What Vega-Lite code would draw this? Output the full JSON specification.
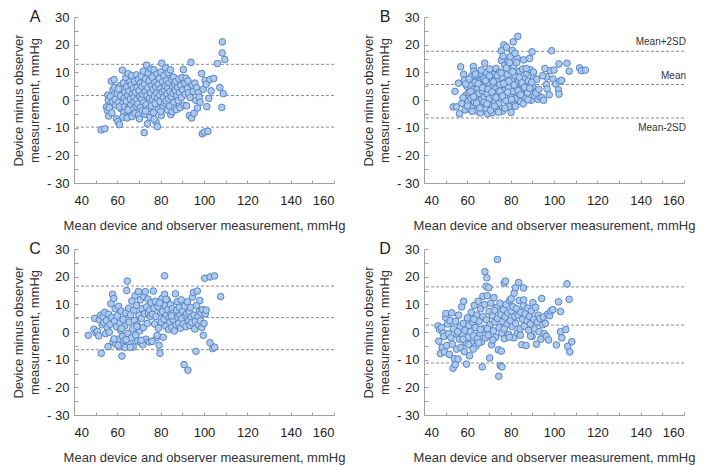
{
"$schema": "https://vega.github.io/schema/vega-lite/v6.json",
"padding": {"left": 12, "top": 9, "right": 5, "bottom": 5},
"background": "white",
"config": {
  "view": {"stroke": null},
  "font": "Liberation Sans",
  "concat": {"spacing": 17},
  "axis": {"grid": false, "domainColor": "#a0a0a0", "tickColor": "#a0a0a0", "labelColor": "#222", "labelFontSize": 13, "labelFont": "Liberation Sans",
    "titleFontSize": 13, "titleFont": "Liberation Sans", "titleFontWeight": "normal", "titleColor": "#333", "labelOverlap": false, "labelBound": false, "tickCount": 30},
  "axisX": {"tickSize": -3, "labelPadding": 14, "titlePadding": 12},
  "axisY": {"tickSize": -4, "labelPadding": 9, "titlePadding": 5, "titleLineHeight": 16}
},
"datasets": {"pts": [
{"p":"A","ref":12.9},{"p":"A","ref":1.6},{"p":"A","ref":-9.8},
{"p":"B","ref":17.6},{"p":"B","ref":5.6},{"p":"B","ref":-6.5},
{"p":"C","ref":16.6},{"p":"C","ref":5.2},{"p":"C","ref":-6.4},
{"p":"D","ref":16.3},{"p":"D","ref":2.5},{"p":"D","ref":-11.2},
{"p":"B","lab":"Mean+2SD","ly":17.6},{"p":"B","lab":"Mean","ly":5.6},{"p":"B","lab":"Mean-2SD","ly":-6.5},
{"p":"A","letter":"A"},{"p":"B","letter":"B"},{"p":"C","letter":"C"},{"p":"D","letter":"D"},
{"p":"A","x":52.5,"y":-10.8},{"p":"A","x":54.2,"y":-10.4},{"p":"A","x":55,"y":-2.5},{"p":"A","x":55.4,"y":-3.8},{"p":"A","x":55.6,"y":1.8},{"p":"A","x":55.8,"y":0},{"p":"A","x":56,"y":-5.8},{"p":"A","x":56.3,"y":-2.8},{"p":"A","x":56.8,"y":1.2},{"p":"A","x":57.2,"y":6.8},{"p":"A","x":57.5,"y":-4.6},{"p":"A","x":57.8,"y":-0.5},{"p":"A","x":58,"y":3.8},
{"p":"A","x":58.5,"y":7.4},{"p":"A","x":58.8,"y":4.5},{"p":"A","x":59,"y":0.2},{"p":"A","x":59.3,"y":-1.8},{"p":"A","x":59.6,"y":-6.8},{"p":"A","x":60,"y":2.5},{"p":"A","x":60.3,"y":-7.8},{"p":"A","x":60.6,"y":-0.8},{"p":"A","x":61,"y":-8.9},{"p":"A","x":61.2,"y":5.2},{"p":"A","x":61.5,"y":1.5},{"p":"A","x":61.8,"y":-3.2},{"p":"A","x":62,"y":3.8},{"p":"A","x":62.3,"y":10.8},{"p":"A","x":62.5,"y":-1.2},{"p":"A","x":62.8,"y":6.2},{"p":"A","x":63,"y":-4.5},{"p":"A","x":63.2,"y":0.6},{"p":"A","x":63.5,"y":2.8},{"p":"A","x":63.7,"y":-5.8},{"p":"A","x":63.9,"y":8.1},{"p":"A","x":61,"y":-2.5},{"p":"A","x":60.5,"y":4},{"p":"A","x":62.6,"y":-6.2},{"p":"A","x":63.4,"y":-2.4},
{"p":"A","x":64.1,"y":-0.4},{"p":"A","x":64.3,"y":4.8},{"p":"A","x":64.5,"y":-6.5},{"p":"A","x":64.8,"y":1.8},{"p":"A","x":65,"y":9.5},{"p":"A","x":65.2,"y":-2.8},{"p":"A","x":65.4,"y":3.2},{"p":"A","x":65.6,"y":-4.2},{"p":"A","x":65.8,"y":6.5},{"p":"A","x":66,"y":0.4},{"p":"A","x":66.2,"y":-1.8},{"p":"A","x":66.4,"y":5.4},{"p":"A","x":66.6,"y":8.8},{"p":"A","x":66.8,"y":-6},{"p":"A","x":67,"y":2.2},{"p":"A","x":67.2,"y":-3.4},{"p":"A","x":67.4,"y":4.2},{"p":"A","x":67.6,"y":0.9},{"p":"A","x":67.8,"y":-0.8},{"p":"A","x":68,"y":6.8},{"p":"A","x":68.2,"y":-4.8},{"p":"A","x":68.4,"y":2.8},{"p":"A","x":68.6,"y":-2.2},{"p":"A","x":68.8,"y":9.1},{"p":"A","x":69,"y":0.2},{"p":"A","x":69.2,"y":4.6},{"p":"A","x":69.4,"y":-1.4},{"p":"A","x":69.6,"y":7.4},{"p":"A","x":69.8,"y":-5.4},{"p":"A","x":64.9,"y":-3.6},
{"p":"A","x":70,"y":3.4},{"p":"A","x":70.2,"y":-6.8},{"p":"A","x":70.4,"y":1.2},{"p":"A","x":70.6,"y":6.1},{"p":"A","x":70.8,"y":-2.6},{"p":"A","x":71,"y":8.6},{"p":"A","x":71.2,"y":0.3},{"p":"A","x":71.4,"y":4.9},{"p":"A","x":71.6,"y":-3.9},{"p":"A","x":71.8,"y":2.1},{"p":"A","x":72,"y":10.4},{"p":"A","x":72.2,"y":-0.9},{"p":"A","x":72.4,"y":-11.8},{"p":"A","x":72.5,"y":5.8},{"p":"A","x":72.7,"y":-5.2},{"p":"A","x":72.9,"y":3.1},{"p":"A","x":73.1,"y":7.6},{"p":"A","x":73.3,"y":-1.7},{"p":"A","x":73.5,"y":12.6},{"p":"A","x":73.7,"y":1.6},{"p":"A","x":73.9,"y":-8.6},{"p":"A","x":74.1,"y":4.4},{"p":"A","x":74.3,"y":9.8},{"p":"A","x":74.5,"y":-3.1},{"p":"A","x":74.7,"y":6.9},{"p":"A","x":74.9,"y":0.7},{"p":"A","x":75.1,"y":-6.2},{"p":"A","x":75.3,"y":2.6},{"p":"A","x":75.5,"y":11.2},{"p":"A","x":75.7,"y":-2.1},{"p":"A","x":75.9,"y":5.2},{"p":"A","x":73,"y":-4},
{"p":"A","x":76.1,"y":8.2},{"p":"A","x":76.3,"y":0.1},{"p":"A","x":76.5,"y":3.9},{"p":"A","x":76.7,"y":-4.6},{"p":"A","x":76.9,"y":10.9},{"p":"A","x":77.1,"y":1.4},{"p":"A","x":77.3,"y":6.3},{"p":"A","x":77.5,"y":-1.3},{"p":"A","x":77.7,"y":4.8},{"p":"A","x":77.9,"y":-8},{"p":"A","x":78.1,"y":2.5},{"p":"A","x":78.3,"y":9.4},{"p":"A","x":78.5,"y":-9.6},{"p":"A","x":78.7,"y":0.6},{"p":"A","x":78.9,"y":5.6},{"p":"A","x":79.1,"y":-3.3},{"p":"A","x":79.3,"y":7.8},{"p":"A","x":79.5,"y":1.9},{"p":"A","x":79.7,"y":-0.6},{"p":"A","x":79.9,"y":4.1},{"p":"A","x":80.1,"y":10.1},{"p":"A","x":80.3,"y":-5.6},{"p":"A","x":80.5,"y":13.3},{"p":"A","x":80.7,"y":2.9},{"p":"A","x":80.9,"y":6.6},{"p":"A","x":81.1,"y":-2.4},{"p":"A","x":81.3,"y":0.9},{"p":"A","x":81.5,"y":8.9},{"p":"A","x":81.7,"y":3.6},{"p":"A","x":81.9,"y":-1.1},{"p":"A","x":77,"y":-6.9},{"p":"A","x":80,"y":-4.1},
{"p":"A","x":82.1,"y":5.1},{"p":"A","x":82.3,"y":11.6},{"p":"A","x":82.5,"y":-0.3},{"p":"A","x":82.7,"y":7.1},{"p":"A","x":82.9,"y":2.2},{"p":"A","x":83.1,"y":-3.6},{"p":"A","x":83.3,"y":4.4},{"p":"A","x":83.5,"y":9.9},{"p":"A","x":83.7,"y":0.4},{"p":"A","x":83.9,"y":6.2},{"p":"A","x":84.1,"y":-2.2},{"p":"A","x":84.3,"y":3.1},{"p":"A","x":84.5,"y":10.9},{"p":"A","x":84.7,"y":-5.3},{"p":"A","x":84.9,"y":1.2},{"p":"A","x":85.1,"y":7.4},{"p":"A","x":85.3,"y":-4.2},{"p":"A","x":85.5,"y":4.9},{"p":"A","x":85.7,"y":2.4},{"p":"A","x":85.9,"y":8.3},{"p":"A","x":86.1,"y":-0.9},{"p":"A","x":86.3,"y":5.7},{"p":"A","x":86.5,"y":-2.9},{"p":"A","x":86.7,"y":3.4},{"p":"A","x":86.9,"y":6.7},{"p":"A","x":87.2,"y":-3.5},{"p":"A","x":87.5,"y":1.6},{"p":"A","x":87.8,"y":4.6},
{"p":"A","x":88.1,"y":-0.2},{"p":"A","x":88.4,"y":7.6},{"p":"A","x":88.7,"y":2.7},{"p":"A","x":89,"y":-2.8},{"p":"A","x":89.3,"y":5.3},{"p":"A","x":89.6,"y":0.9},{"p":"A","x":89.9,"y":8.1},{"p":"A","x":90.2,"y":3.6},{"p":"A","x":90.5,"y":11},{"p":"A","x":90.8,"y":-1.9},{"p":"A","x":91.1,"y":6.1},{"p":"A","x":91.4,"y":2.1},{"p":"A","x":91.7,"y":7.9},{"p":"A","x":92,"y":-2.1},{"p":"A","x":92.3,"y":4.2},{"p":"A","x":92.6,"y":6.9},{"p":"A","x":92.9,"y":2.6},{"p":"A","x":93.3,"y":-5.6},{"p":"A","x":93.6,"y":0.9},{"p":"A","x":94,"y":13.6},
{"p":"A","x":94.3,"y":-6.5},{"p":"A","x":94.6,"y":5.4},{"p":"A","x":95,"y":3.1},{"p":"A","x":95.4,"y":-4.8},{"p":"A","x":95.8,"y":6.1},{"p":"A","x":96.2,"y":-0.1},{"p":"A","x":96.6,"y":4.4},{"p":"A","x":97,"y":-2.9},{"p":"A","x":97.4,"y":2.6},{"p":"A","x":97.8,"y":1},{"p":"A","x":98.2,"y":-0.8},{"p":"A","x":98.9,"y":9.6},{"p":"A","x":99.2,"y":-12.2},{"p":"A","x":99.6,"y":3.9},
{"p":"A","x":100.2,"y":-11.6},{"p":"A","x":100.5,"y":7.1},{"p":"A","x":101,"y":5.7},{"p":"A","x":101.3,"y":-2.4},{"p":"A","x":101.8,"y":-11.3},{"p":"A","x":102.2,"y":0.6},{"p":"A","x":102.8,"y":7.4},{"p":"A","x":103.3,"y":3.3},{"p":"A","x":104.5,"y":7.8},{"p":"A","x":106.2,"y":13.2},{"p":"A","x":107.3,"y":4.5},{"p":"A","x":108.2,"y":-2.7},{"p":"A","x":108.4,"y":17},{"p":"A","x":108.5,"y":21},{"p":"A","x":108.9,"y":2.3},{"p":"A","x":109.6,"y":14.6},
{"p":"B","x":53.5,"y":-2.5},{"p":"B","x":54.3,"y":3.1},{"p":"B","x":55,"y":-2.5},{"p":"B","x":55.9,"y":6.1},{"p":"B","x":56.4,"y":-5},{"p":"B","x":56.9,"y":12},{"p":"B","x":57.5,"y":-1.2},{"p":"B","x":58.3,"y":9.3},{"p":"B","x":58.6,"y":7.2},{"p":"B","x":59,"y":-3.6},{"p":"B","x":59.4,"y":1.8},{"p":"B","x":59.8,"y":4.9},{"p":"B","x":60.2,"y":-0.4},{"p":"B","x":60.6,"y":2.6},{"p":"B","x":61,"y":-3.2},{"p":"B","x":61.3,"y":5.3},{"p":"B","x":61.7,"y":0.6},{"p":"B","x":62,"y":8.6},{"p":"B","x":62.3,"y":-2.2},{"p":"B","x":62.8,"y":12.1},{"p":"B","x":62.6,"y":3.8},{"p":"B","x":63,"y":10.4},{"p":"B","x":63.3,"y":-0.9},{"p":"B","x":63.6,"y":6.4},{"p":"B","x":63.9,"y":1.4},{"p":"B","x":64.2,"y":-3.9},{"p":"B","x":64.5,"y":8.9},{"p":"B","x":64.8,"y":4.3},{"p":"B","x":65.1,"y":-1.6},{"p":"B","x":65.4,"y":2.4},{"p":"B","x":65.7,"y":9.6},{"p":"B","x":66,"y":-4.7},{"p":"B","x":66.3,"y":6.8},{"p":"B","x":66.6,"y":0.2},{"p":"B","x":66.9,"y":3.3},{"p":"B","x":67.2,"y":-2.6},{"p":"B","x":67.5,"y":7.7},{"p":"B","x":67.8,"y":1.1},{"p":"B","x":68,"y":13.3},{"p":"B","x":68.2,"y":4.9},{"p":"B","x":68.5,"y":-3.1},{"p":"B","x":68.8,"y":9.9},{"p":"B","x":69.1,"y":2.3},{"p":"B","x":69.4,"y":-5},{"p":"B","x":69.7,"y":6.1},{"p":"B","x":70,"y":0.4},{"p":"B","x":70.3,"y":11.2},{"p":"B","x":70.6,"y":3.6},{"p":"B","x":70.9,"y":-1.9},{"p":"B","x":71.2,"y":8.4},{"p":"B","x":71.5,"y":-4.6},{"p":"B","x":71.8,"y":5.2},{"p":"B","x":72.1,"y":1.7},{"p":"B","x":72.4,"y":9.2},{"p":"B","x":72.7,"y":-0.7},{"p":"B","x":73,"y":4},{"p":"B","x":73.3,"y":11.4},{"p":"B","x":73.6,"y":-3.4},{"p":"B","x":73.9,"y":6.9},{"p":"B","x":74.2,"y":2.9},{"p":"B","x":74.5,"y":-1.3},{"p":"B","x":74.8,"y":10.1},{"p":"B","x":75.1,"y":5.6},{"p":"B","x":75.4,"y":0.8},{"p":"B","x":75.7,"y":14.3},{"p":"B","x":75.7,"y":17.8},{"p":"B","x":76,"y":8.1},{"p":"B","x":76.3,"y":-4},{"p":"B","x":76.6,"y":3.4},{"p":"B","x":76.9,"y":19.9},{"p":"B","x":77.2,"y":12.6},{"p":"B","x":77.5,"y":6.3},{"p":"B","x":77.8,"y":-0.2},{"p":"B","x":78.1,"y":19.1},{"p":"B","x":78.4,"y":9.3},{"p":"B","x":78.7,"y":14.1},{"p":"B","x":79,"y":4.4},{"p":"B","x":79.3,"y":-2.4},{"p":"B","x":79.6,"y":10.9},{"p":"B","x":79.9,"y":1.9},{"p":"B","x":80.2,"y":-4.5},{"p":"B","x":80.5,"y":7.2},{"p":"B","x":80.8,"y":17.9},{"p":"B","x":81.1,"y":3.1},{"p":"B","x":81.2,"y":21},{"p":"B","x":81.4,"y":12.2},{"p":"B","x":81.7,"y":-1.6},{"p":"B","x":82,"y":8.8},{"p":"B","x":82.3,"y":4.9},{"p":"B","x":82.6,"y":0.6},{"p":"B","x":83,"y":15.2},{"p":"B","x":83.3,"y":23},{"p":"B","x":83.6,"y":6.4},{"p":"B","x":83.9,"y":2.1},{"p":"B","x":84.2,"y":10.4},{"p":"B","x":84.5,"y":-0.6},{"p":"B","x":84.8,"y":5.7},{"p":"B","x":85.1,"y":3.6},{"p":"B","x":85.5,"y":11.2},{"p":"B","x":86,"y":14.5},{"p":"B","x":86.3,"y":7.6},{"p":"B","x":86.7,"y":0.9},{"p":"B","x":87,"y":3.9},{"p":"B","x":87.4,"y":9.7},{"p":"B","x":87.8,"y":2.6},{"p":"B","x":88.2,"y":6.9},{"p":"B","x":88.7,"y":15},{"p":"B","x":89.1,"y":10.9},{"p":"B","x":89.5,"y":-0.1},{"p":"B","x":89.9,"y":17.4},{"p":"B","x":90.2,"y":4.8},{"p":"B","x":90.6,"y":8.2},{"p":"B","x":91,"y":1.6},{"p":"B","x":91.4,"y":3},{"p":"B","x":92,"y":7.5},{"p":"B","x":92.6,"y":0.3},{"p":"B","x":93.4,"y":1.2},{"p":"B","x":94.4,"y":0.8},{"p":"B","x":95.2,"y":-0.1},{"p":"B","x":96.5,"y":8.3},{"p":"B","x":96.5,"y":5.6},{"p":"B","x":96.8,"y":4},{"p":"B","x":97.8,"y":1.9},{"p":"B","x":98.3,"y":10.6},{"p":"B","x":98.9,"y":17.8},{"p":"B","x":99.5,"y":7.6},{"p":"B","x":100.8,"y":5.8},{"p":"B","x":102,"y":3.7},{"p":"B","x":102.3,"y":2.1},{"p":"B","x":102.3,"y":13},{"p":"B","x":102.6,"y":6.8},{"p":"B","x":103.5,"y":7.1},{"p":"B","x":106,"y":13.3},{"p":"B","x":107,"y":10.4},{"p":"B","x":111.8,"y":11.6},{"p":"B","x":112.7,"y":10.6},{"p":"B","x":114.5,"y":10.8},
{"p":"B","x":58,"y":0.8},{"p":"B","x":59.2,"y":5.8},{"p":"B","x":60,"y":-2.1},{"p":"B","x":60.8,"y":7.6},{"p":"B","x":61.5,"y":3.1},{"p":"B","x":62.2,"y":-4.1},{"p":"B","x":62.9,"y":1.2},{"p":"B","x":63.7,"y":9.4},{"p":"B","x":64.3,"y":-1.1},{"p":"B","x":65,"y":5.9},{"p":"B","x":65.8,"y":-2.9},{"p":"B","x":66.4,"y":10.8},{"p":"B","x":67,"y":4.4},{"p":"B","x":67.7,"y":-0.8},{"p":"B","x":68.4,"y":7},{"p":"B","x":69,"y":-1.4},{"p":"B","x":69.6,"y":3.9},{"p":"B","x":70.2,"y":8.7},{"p":"B","x":70.8,"y":-3.7},{"p":"B","x":71.4,"y":2.9},{"p":"B","x":72,"y":6.6},{"p":"B","x":72.6,"y":-2.2},{"p":"B","x":73.2,"y":0.9},{"p":"B","x":73.8,"y":8.9},{"p":"B","x":74.4,"y":-4.4},{"p":"B","x":75,"y":3.2},{"p":"B","x":75.6,"y":9.8},{"p":"B","x":76.2,"y":1.4},{"p":"B","x":76.8,"y":5.9},{"p":"B","x":77.4,"y":-2.9},{"p":"B","x":78,"y":11.6},{"p":"B","x":78.6,"y":2.8},{"p":"B","x":79.2,"y":6.8},{"p":"B","x":79.8,"y":15.6},{"p":"B","x":80.4,"y":0.2},{"p":"B","x":81,"y":10.2},{"p":"B","x":81.6,"y":5.4},{"p":"B","x":82.2,"y":-2.3},{"p":"B","x":82.8,"y":13.6},{"p":"B","x":83.4,"y":3.4},{"p":"B","x":84,"y":8.2},{"p":"B","x":84.6,"y":1.9},{"p":"B","x":85.2,"y":6.2},{"p":"B","x":85.8,"y":-1.4},{"p":"B","x":86.5,"y":4.6},{"p":"B","x":87.2,"y":11.4},{"p":"B","x":88,"y":0.1},{"p":"B","x":88.8,"y":4.3},{"p":"B","x":89.7,"y":6.4},{"p":"B","x":90.5,"y":10.1},{"p":"B","x":91.7,"y":2.5},{"p":"B","x":93,"y":3.9},{"p":"B","x":94.8,"y":8.8},{"p":"B","x":95.8,"y":11.4},{"p":"B","x":100,"y":10.8},{"p":"B","x":76.5,"y":15.8},{"p":"B","x":79.5,"y":13.5},{"p":"B","x":82,"y":16.9},
{"p":"C","x":46.6,"y":-1.2},{"p":"C","x":49.2,"y":1},{"p":"C","x":49.5,"y":4.9},{"p":"C","x":50.2,"y":-0.3},{"p":"C","x":50.8,"y":0.2},{"p":"C","x":51.4,"y":-1.4},{"p":"C","x":51.7,"y":4.4},{"p":"C","x":52.3,"y":6.1},{"p":"C","x":52.6,"y":-7.7},{"p":"C","x":53,"y":2.6},{"p":"C","x":53.4,"y":5.6},{"p":"C","x":53.8,"y":3.4},{"p":"C","x":54.2,"y":7.1},{"p":"C","x":54.6,"y":-0.6},{"p":"C","x":55,"y":4.1},{"p":"C","x":55.4,"y":1.6},{"p":"C","x":55.7,"y":-5.3},{"p":"C","x":56,"y":6.4},{"p":"C","x":56.3,"y":-0.1},{"p":"C","x":56.7,"y":2.8},{"p":"C","x":57,"y":10.2},{"p":"C","x":57.4,"y":5.2},{"p":"C","x":57.8,"y":13.6},{"p":"C","x":58,"y":-3.6},{"p":"C","x":58.4,"y":12.1},{"p":"C","x":58.7,"y":3.9},{"p":"C","x":59,"y":8.4},{"p":"C","x":59.3,"y":-4.4},{"p":"C","x":59.6,"y":1.9},{"p":"C","x":60,"y":5.8},{"p":"C","x":60.3,"y":-2.6},{"p":"C","x":60.6,"y":9.3},{"p":"C","x":60.9,"y":-5.4},{"p":"C","x":61.2,"y":3.2},{"p":"C","x":61.5,"y":0.6},{"p":"C","x":61.8,"y":7.6},{"p":"C","x":62.1,"y":-8.7},{"p":"C","x":62.4,"y":-1.6},{"p":"C","x":62.7,"y":4.6},{"p":"C","x":63,"y":-3.1},{"p":"C","x":63.3,"y":2.1},{"p":"C","x":63.6,"y":-5.6},{"p":"C","x":63.9,"y":6.9},{"p":"C","x":64.3,"y":15},{"p":"C","x":64.6,"y":18.4},{"p":"C","x":64.9,"y":-0.6},{"p":"C","x":65.2,"y":8.6},{"p":"C","x":65.5,"y":3.6},{"p":"C","x":65.8,"y":-4.1},{"p":"C","x":66.1,"y":6.2},{"p":"C","x":66.4,"y":-2.1},{"p":"C","x":66.7,"y":11.2},{"p":"C","x":67,"y":1.1},{"p":"C","x":67.3,"y":-5.4},{"p":"C","x":67.6,"y":7.9},{"p":"C","x":67.9,"y":4.1},{"p":"C","x":68.2,"y":13.1},{"p":"C","x":68.5,"y":-1.1},{"p":"C","x":68.8,"y":9.6},{"p":"C","x":69.1,"y":2.6},{"p":"C","x":69.4,"y":-3.3},{"p":"C","x":69.7,"y":14.6},{"p":"C","x":70,"y":6.1},{"p":"C","x":70.3,"y":0.4},{"p":"C","x":70.6,"y":11.6},{"p":"C","x":70.8,"y":-3.9},{"p":"C","x":71.1,"y":4.9},{"p":"C","x":71.4,"y":8.4},{"p":"C","x":71.7,"y":-4.6},{"p":"C","x":72,"y":1.6},{"p":"C","x":72.3,"y":12.8},{"p":"C","x":72.6,"y":6.6},{"p":"C","x":72.9,"y":14.6},{"p":"C","x":73.2,"y":-2.6},{"p":"C","x":73.5,"y":9.1},{"p":"C","x":73.8,"y":3.1},{"p":"C","x":74.1,"y":11.9},{"p":"C","x":74.4,"y":6.8},{"p":"C","x":74.7,"y":-3.6},{"p":"C","x":75,"y":7.9},{"p":"C","x":75.3,"y":5.6},{"p":"C","x":75.6,"y":10.6},{"p":"C","x":75.9,"y":-3.4},{"p":"C","x":76.2,"y":6.4},{"p":"C","x":76.6,"y":14.8},{"p":"C","x":76.9,"y":8.6},{"p":"C","x":77.2,"y":2.9},{"p":"C","x":77.5,"y":11.1},{"p":"C","x":77.8,"y":5.6},{"p":"C","x":78.1,"y":-2.1},{"p":"C","x":78.4,"y":-1.2},{"p":"C","x":78.7,"y":9.2},{"p":"C","x":79,"y":1.4},{"p":"C","x":79.3,"y":-4.8},{"p":"C","x":79.7,"y":-7.7},{"p":"C","x":80,"y":6.9},{"p":"C","x":80.3,"y":3.6},{"p":"C","x":80.6,"y":12.1},{"p":"C","x":80.9,"y":7.4},{"p":"C","x":81.2,"y":-1.9},{"p":"C","x":81.5,"y":4.6},{"p":"C","x":81.8,"y":20.3},{"p":"C","x":81.8,"y":13.6},{"p":"C","x":82.1,"y":9.6},{"p":"C","x":82.4,"y":2.1},{"p":"C","x":82.7,"y":6.1},{"p":"C","x":83,"y":11.6},{"p":"C","x":83.3,"y":8.1},{"p":"C","x":83.6,"y":0.9},{"p":"C","x":83.9,"y":5.1},{"p":"C","x":84.2,"y":3.6},{"p":"C","x":84.5,"y":9.9},{"p":"C","x":84.8,"y":6.6},{"p":"C","x":85.1,"y":1.6},{"p":"C","x":85.4,"y":8.4},{"p":"C","x":85.7,"y":4.4},{"p":"C","x":86,"y":6.9},{"p":"C","x":86.3,"y":0.4},{"p":"C","x":86.8,"y":13.8},{"p":"C","x":87.1,"y":2.6},{"p":"C","x":87.4,"y":7.9},{"p":"C","x":87.7,"y":10.9},{"p":"C","x":88,"y":5.4},{"p":"C","x":88.3,"y":3.1},{"p":"C","x":88.6,"y":8.9},{"p":"C","x":88.9,"y":6.1},{"p":"C","x":89.2,"y":1.4},{"p":"C","x":89.5,"y":11.6},{"p":"C","x":89.8,"y":4.9},{"p":"C","x":90.1,"y":7.6},{"p":"C","x":90.4,"y":2.9},{"p":"C","x":90.8,"y":-11.8},{"p":"C","x":91.1,"y":9.4},{"p":"C","x":91.4,"y":5.9},{"p":"C","x":91.7,"y":1.9},{"p":"C","x":92,"y":6.6},{"p":"C","x":92.3,"y":10.9},{"p":"C","x":92.6,"y":-13.8},{"p":"C","x":92.9,"y":4.1},{"p":"C","x":93.2,"y":7.1},{"p":"C","x":93.5,"y":2.4},{"p":"C","x":93.8,"y":8.9},{"p":"C","x":94.1,"y":5.4},{"p":"C","x":94.4,"y":3.4},{"p":"C","x":94.7,"y":12.6},{"p":"C","x":95.1,"y":14.3},{"p":"C","x":95.4,"y":6.1},{"p":"C","x":95.7,"y":1.1},{"p":"C","x":96,"y":3.9},{"p":"C","x":96.3,"y":-7},{"p":"C","x":96.6,"y":9.6},{"p":"C","x":96.9,"y":14.8},{"p":"C","x":97.2,"y":5.6},{"p":"C","x":97.5,"y":2.6},{"p":"C","x":97.8,"y":7.4},{"p":"C","x":98.1,"y":11.4},{"p":"C","x":98.4,"y":4.1},{"p":"C","x":98.7,"y":6.9},{"p":"C","x":99,"y":1.6},{"p":"C","x":99.4,"y":8.1},{"p":"C","x":99.7,"y":-1.2},{"p":"C","x":100,"y":3.1},{"p":"C","x":100.3,"y":19.4},{"p":"C","x":100.6,"y":6.6},{"p":"C","x":101,"y":7.9},{"p":"C","x":102.8,"y":19.9},{"p":"C","x":102.8,"y":-3.9},{"p":"C","x":104,"y":-6},{"p":"C","x":104.9,"y":-5.5},{"p":"C","x":104.9,"y":20.3},{"p":"C","x":107.7,"y":12.8},{"p":"C","x":64,"y":-2.8},{"p":"C","x":66,"y":-5.5},{"p":"C","x":69,"y":2},{"p":"C","x":58.5,"y":-2.5},{"p":"C","x":60.4,"y":-4.8},{"p":"C","x":62,"y":1.3},{"p":"C","x":76,"y":-3.4},{"p":"C","x":71,"y":-3},{"p":"C","x":85,"y":5.8},{"p":"C","x":79.5,"y":10.5},{"p":"C","x":82.5,"y":11.8},
{"p":"D","x":46.5,"y":2.2},{"p":"D","x":46.8,"y":-3.3},{"p":"D","x":47.2,"y":0.9},{"p":"D","x":47.6,"y":-7.8},{"p":"D","x":48,"y":1.6},{"p":"D","x":48.4,"y":-5.6},{"p":"D","x":48.8,"y":-0.4},{"p":"D","x":49.2,"y":-1.6},{"p":"D","x":49.5,"y":-7.2},{"p":"D","x":50,"y":5.2},{"p":"D","x":50.1,"y":6.7},{"p":"D","x":50.5,"y":-4.9},{"p":"D","x":50.9,"y":2.9},{"p":"D","x":51.3,"y":-0.6},{"p":"D","x":51.7,"y":-8.1},{"p":"D","x":52,"y":4.1},{"p":"D","x":52.4,"y":-2.1},{"p":"D","x":52.8,"y":6.9},{"p":"D","x":53.1,"y":-4.4},{"p":"D","x":53.4,"y":-13.1},{"p":"D","x":53.6,"y":1.1},{"p":"D","x":54,"y":-9.6},{"p":"D","x":54.4,"y":-11.8},{"p":"D","x":54.6,"y":3.9},{"p":"D","x":55,"y":-6.2},{"p":"D","x":55.3,"y":-0.9},{"p":"D","x":55.7,"y":-9.8},{"p":"D","x":56,"y":6.1},{"p":"D","x":56.3,"y":-2.6},{"p":"D","x":56.7,"y":1.9},{"p":"D","x":57,"y":-5.6},{"p":"D","x":57.4,"y":9.1},{"p":"D","x":57.8,"y":-1.1},{"p":"D","x":58.2,"y":3.1},{"p":"D","x":58.3,"y":11.1},{"p":"D","x":58.6,"y":-7.1},{"p":"D","x":59,"y":0.6},{"p":"D","x":59.3,"y":-3.9},{"p":"D","x":59.6,"y":-11.6},{"p":"D","x":60,"y":5.1},{"p":"D","x":60.3,"y":-1.9},{"p":"D","x":60.7,"y":2.4},{"p":"D","x":61,"y":-8.6},{"p":"D","x":61.4,"y":0.1},{"p":"D","x":61.8,"y":7.1},{"p":"D","x":62.1,"y":-4.1},{"p":"D","x":62.5,"y":3.6},{"p":"D","x":62.9,"y":-1.4},{"p":"D","x":63.2,"y":9.6},{"p":"D","x":63.6,"y":1.6},{"p":"D","x":64,"y":-5.1},{"p":"D","x":64.3,"y":6.1},{"p":"D","x":64.7,"y":-2.4},{"p":"D","x":65,"y":11.1},{"p":"D","x":65.4,"y":3.9},{"p":"D","x":65.8,"y":-0.4},{"p":"D","x":66.1,"y":8.4},{"p":"D","x":66.5,"y":-3.6},{"p":"D","x":66.9,"y":-12.6},{"p":"D","x":67.2,"y":12.9},{"p":"D","x":67.2,"y":5.6},{"p":"D","x":67.6,"y":1.1},{"p":"D","x":68,"y":9.9},{"p":"D","x":68.1,"y":21.8},{"p":"D","x":68.4,"y":-2.1},{"p":"D","x":68.7,"y":16.5},{"p":"D","x":68.8,"y":4.4},{"p":"D","x":69,"y":19.6},{"p":"D","x":69.2,"y":13.1},{"p":"D","x":69.6,"y":-1.1},{"p":"D","x":69.9,"y":16},{"p":"D","x":70,"y":7.4},{"p":"D","x":70.3,"y":-9.4},{"p":"D","x":70.4,"y":2.6},{"p":"D","x":70.8,"y":10.4},{"p":"D","x":71.2,"y":-4.6},{"p":"D","x":71.6,"y":5.9},{"p":"D","x":72,"y":0.4},{"p":"D","x":72.3,"y":12.4},{"p":"D","x":72.7,"y":3.6},{"p":"D","x":73.1,"y":-1.9},{"p":"D","x":73.5,"y":8.9},{"p":"D","x":73.9,"y":26.2},{"p":"D","x":73.9,"y":4.9},{"p":"D","x":74.3,"y":-6.4},{"p":"D","x":74.5,"y":-16},{"p":"D","x":74.7,"y":1.6},{"p":"D","x":75.1,"y":10.4},{"p":"D","x":75.2,"y":-12.1},{"p":"D","x":75.5,"y":6.4},{"p":"D","x":75.9,"y":-0.4},{"p":"D","x":76,"y":-12.6},{"p":"D","x":76.3,"y":3.9},{"p":"D","x":76.7,"y":8.1},{"p":"D","x":77,"y":17.7},{"p":"D","x":77.1,"y":-2.4},{"p":"D","x":77.5,"y":5.4},{"p":"D","x":77.6,"y":18.4},{"p":"D","x":77.9,"y":9.9},{"p":"D","x":78.3,"y":2.6},{"p":"D","x":78.7,"y":6.9},{"p":"D","x":79.1,"y":-0.9},{"p":"D","x":79.5,"y":11.4},{"p":"D","x":79.9,"y":4.1},{"p":"D","x":80.3,"y":7.6},{"p":"D","x":80.7,"y":1.9},{"p":"D","x":81.1,"y":9.1},{"p":"D","x":81.5,"y":-2.1},{"p":"D","x":81.6,"y":14},{"p":"D","x":81.9,"y":5.6},{"p":"D","x":82.2,"y":16},{"p":"D","x":82.3,"y":3.1},{"p":"D","x":82.7,"y":8.4},{"p":"D","x":83.1,"y":-0.4},{"p":"D","x":83.5,"y":6.1},{"p":"D","x":83.7,"y":17.9},{"p":"D","x":83.9,"y":11.4},{"p":"D","x":84.3,"y":1.1},{"p":"D","x":84.7,"y":7.1},{"p":"D","x":85.1,"y":-4.6},{"p":"D","x":85.5,"y":4.6},{"p":"D","x":85.9,"y":15.9},{"p":"D","x":85.9,"y":9.6},{"p":"D","x":86.3,"y":2.1},{"p":"D","x":86.7,"y":6.6},{"p":"D","x":87.1,"y":-4.9},{"p":"D","x":87.5,"y":4.1},{"p":"D","x":87.9,"y":8.6},{"p":"D","x":88.3,"y":0.6},{"p":"D","x":88.7,"y":5.6},{"p":"D","x":89.1,"y":2.9},{"p":"D","x":89.5,"y":7.6},{"p":"D","x":89.9,"y":-1.6},{"p":"D","x":90.3,"y":10.6},{"p":"D","x":90.7,"y":4.6},{"p":"D","x":91.1,"y":1.1},{"p":"D","x":91.5,"y":8.9},{"p":"D","x":91.9,"y":-4.4},{"p":"D","x":92.3,"y":3.6},{"p":"D","x":92.7,"y":6.1},{"p":"D","x":93.1,"y":0.1},{"p":"D","x":93.5,"y":4.9},{"p":"D","x":93.9,"y":-2.6},{"p":"D","x":94.3,"y":12.1},{"p":"D","x":94.7,"y":2.6},{"p":"D","x":95.1,"y":5.4},{"p":"D","x":95.5,"y":-0.6},{"p":"D","x":96,"y":3.1},{"p":"D","x":96.5,"y":-1.6},{"p":"D","x":97,"y":6.4},{"p":"D","x":97.5,"y":-2.9},{"p":"D","x":98,"y":5.9},{"p":"D","x":98.5,"y":7.6},{"p":"D","x":99.5,"y":8.1},{"p":"D","x":101.1,"y":-4.7},{"p":"D","x":102.1,"y":10.9},{"p":"D","x":103,"y":7.4},{"p":"D","x":103,"y":0.1},{"p":"D","x":103.6,"y":-2.1},{"p":"D","x":105.4,"y":0.9},{"p":"D","x":106,"y":17.4},{"p":"D","x":106.3,"y":-5.2},{"p":"D","x":107,"y":11.8},{"p":"D","x":107.3,"y":-7.2},{"p":"D","x":108.2,"y":-3.5},{"p":"D","x":55.5,"y":0.1},{"p":"D","x":58,"y":-2.6},{"p":"D","x":60.6,"y":-4.6},{"p":"D","x":62.7,"y":-6.2},{"p":"D","x":65.2,"y":-3.9},{"p":"D","x":71.8,"y":-2.9},{"p":"D","x":75.7,"y":-6.9},{"p":"D","x":79.4,"y":-1.9},{"p":"D","x":84.5,"y":-1.2},{"p":"D","x":89.2,"y":-1.5},{"p":"D","x":63,"y":4.6},{"p":"D","x":66,"y":0.9},{"p":"D","x":69.3,"y":1.2},{"p":"D","x":72.6,"y":7.8},{"p":"D","x":77,"y":1.1},{"p":"D","x":80.2,"y":12},{"p":"D","x":86,"y":11.6}
]},
"data": {"name": "pts"},
"vconcat": [
 {"hconcat": [
  {"width": 260, "height": 166, "transform": [{"filter": "datum.p == 'A'"}], "layer": [
    {"transform": [{"filter": "isValid(datum.ref)"}], "mark": {"type": "rule", "strokeDash": [3, 2], "color": "#8a8a8a", "strokeWidth": 1},
     "encoding": {"y": {"field": "ref", "type": "quantitative", "scale": {"domain": [-30, 30]}, "axis": {"title": ["Device minus observer", "measurement, mmHg"], "values": [-30,-25,-20,-15,-10,-5,0,5,10,15,20,25,30], "labelExpr": "datum.value % 10 != 0 ? '' : (datum.value < 0 ? '- ' + abs(datum.value) : '' + datum.value)"}}}},
    {"transform": [{"filter": "isValid(datum.x)"}], "mark": {"type": "point", "shape": "circle", "filled": true, "size": 44, "fill": "#aec9ee", "stroke": "#5584c4", "strokeWidth": 1, "opacity": 1},
     "encoding": {"x": {"field": "x", "type": "quantitative", "scale": {"domain": [40, 160]}, "axis": {"title": "Mean device and observer measurement, mmHg", "values": [40,50,60,70,80,90,100,110,120,130,140,150,160], "labelExpr": "datum.value % 20 != 0 ? '' : datum.label"}}, "y": {"field": "y", "type": "quantitative"}}},
    {"transform": [{"filter": "isValid(datum.letter)"}], "mark": {"type": "text", "align": "center", "baseline": "middle", "dx": -39, "fontSize": 16, "font": "Liberation Sans", "color": "#222"},
     "encoding": {"x": {"datum": 40}, "y": {"datum": 30}, "text": {"field": "letter"}}}
  ]},
  {"width": 260, "height": 166, "transform": [{"filter": "datum.p == 'B'"}], "layer": [
    {"transform": [{"filter": "isValid(datum.ref)"}], "mark": {"type": "rule", "strokeDash": [3, 2], "color": "#8a8a8a", "strokeWidth": 1},
     "encoding": {"y": {"field": "ref", "type": "quantitative", "scale": {"domain": [-30, 30]}, "axis": {"title": ["Device minus observer", "measurement, mmHg"], "values": [-30,-25,-20,-15,-10,-5,0,5,10,15,20,25,30], "labelExpr": "datum.value % 10 != 0 ? '' : (datum.value < 0 ? '- ' + abs(datum.value) : '' + datum.value)"}}}},
    {"transform": [{"filter": "isValid(datum.x)"}], "mark": {"type": "point", "shape": "circle", "filled": true, "size": 44, "fill": "#aec9ee", "stroke": "#5584c4", "strokeWidth": 1, "opacity": 1},
     "encoding": {"x": {"field": "x", "type": "quantitative", "scale": {"domain": [40, 160]}, "axis": {"title": "Mean device and observer measurement, mmHg", "values": [40,50,60,70,80,90,100,110,120,130,140,150,160], "labelExpr": "datum.value % 20 != 0 ? '' : datum.label"}}, "y": {"field": "y", "type": "quantitative"}}},
    {"transform": [{"filter": "datum.lab == 'Mean+2SD' || datum.lab == 'Mean'"}], "mark": {"type": "text", "align": "right", "baseline": "middle", "dx": 2, "dy": -9, "fontSize": 10, "font": "Liberation Sans", "color": "#333"},
     "encoding": {"x": {"datum": 160}, "y": {"field": "ly", "type": "quantitative"}, "text": {"field": "lab"}}},
    {"transform": [{"filter": "datum.lab == 'Mean-2SD'"}], "mark": {"type": "text", "align": "right", "baseline": "middle", "dx": 2, "dy": 10, "fontSize": 10, "font": "Liberation Sans", "color": "#333"},
     "encoding": {"x": {"datum": 160}, "y": {"field": "ly", "type": "quantitative"}, "text": {"field": "lab"}}},
    {"transform": [{"filter": "isValid(datum.letter)"}], "mark": {"type": "text", "align": "center", "baseline": "middle", "dx": -39, "fontSize": 16, "font": "Liberation Sans", "color": "#222"},
     "encoding": {"x": {"datum": 40}, "y": {"datum": 30}, "text": {"field": "letter"}}}
  ]}
 ]},
 {"hconcat": [
  {"width": 260, "height": 166, "transform": [{"filter": "datum.p == 'C'"}], "layer": [
    {"transform": [{"filter": "isValid(datum.ref)"}], "mark": {"type": "rule", "strokeDash": [3, 2], "color": "#8a8a8a", "strokeWidth": 1},
     "encoding": {"y": {"field": "ref", "type": "quantitative", "scale": {"domain": [-30, 30]}, "axis": {"title": ["Device minus observer", "measurement, mmHg"], "values": [-30,-25,-20,-15,-10,-5,0,5,10,15,20,25,30], "labelExpr": "datum.value % 10 != 0 ? '' : (datum.value < 0 ? '- ' + abs(datum.value) : '' + datum.value)"}}}},
    {"transform": [{"filter": "isValid(datum.x)"}], "mark": {"type": "point", "shape": "circle", "filled": true, "size": 44, "fill": "#aec9ee", "stroke": "#5584c4", "strokeWidth": 1, "opacity": 1},
     "encoding": {"x": {"field": "x", "type": "quantitative", "scale": {"domain": [40, 160]}, "axis": {"title": "Mean device and observer measurement, mmHg", "values": [40,50,60,70,80,90,100,110,120,130,140,150,160], "labelExpr": "datum.value % 20 != 0 ? '' : datum.label"}}, "y": {"field": "y", "type": "quantitative"}}},
    {"transform": [{"filter": "isValid(datum.letter)"}], "mark": {"type": "text", "align": "center", "baseline": "middle", "dx": -39, "fontSize": 16, "font": "Liberation Sans", "color": "#222"},
     "encoding": {"x": {"datum": 40}, "y": {"datum": 30}, "text": {"field": "letter"}}}
  ]},
  {"width": 260, "height": 166, "transform": [{"filter": "datum.p == 'D'"}], "layer": [
    {"transform": [{"filter": "isValid(datum.ref)"}], "mark": {"type": "rule", "strokeDash": [3, 2], "color": "#8a8a8a", "strokeWidth": 1},
     "encoding": {"y": {"field": "ref", "type": "quantitative", "scale": {"domain": [-30, 30]}, "axis": {"title": ["Device minus observer", "measurement, mmHg"], "values": [-30,-25,-20,-15,-10,-5,0,5,10,15,20,25,30], "labelExpr": "datum.value % 10 != 0 ? '' : (datum.value < 0 ? '- ' + abs(datum.value) : '' + datum.value)"}}}},
    {"transform": [{"filter": "isValid(datum.x)"}], "mark": {"type": "point", "shape": "circle", "filled": true, "size": 44, "fill": "#aec9ee", "stroke": "#5584c4", "strokeWidth": 1, "opacity": 1},
     "encoding": {"x": {"field": "x", "type": "quantitative", "scale": {"domain": [40, 160]}, "axis": {"title": "Mean device and observer measurement, mmHg", "values": [40,50,60,70,80,90,100,110,120,130,140,150,160], "labelExpr": "datum.value % 20 != 0 ? '' : datum.label"}}, "y": {"field": "y", "type": "quantitative"}}},
    {"transform": [{"filter": "isValid(datum.letter)"}], "mark": {"type": "text", "align": "center", "baseline": "middle", "dx": -39, "fontSize": 16, "font": "Liberation Sans", "color": "#222"},
     "encoding": {"x": {"datum": 40}, "y": {"datum": 30}, "text": {"field": "letter"}}}
  ]}
 ]}
],
"spacing": 9
}
